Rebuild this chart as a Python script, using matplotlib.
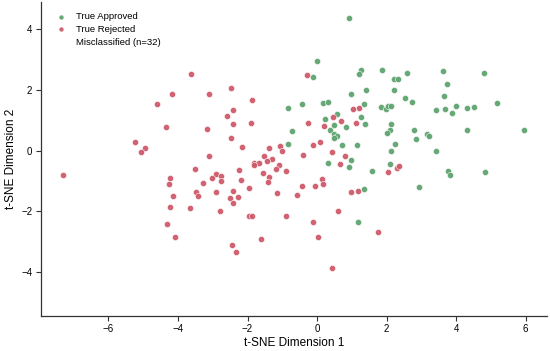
import numpy as np
import matplotlib
matplotlib.use('Agg')
import matplotlib.pyplot as plt

plt.rcParams['font.family'] = ['Liberation Sans', 'DejaVu Sans']

# t-SNE coordinates
approved_x = [0.93, -0.01, 1.25, 1.21, 1.87, 2.22, 2.34, 2.58, 3.63, 4.80, 3.73, -0.12,
              1.41, 2.20, 0.97, 2.54, 2.73, 3.65, 5.17, -0.83, -0.43, 0.18, 0.31, 1.36,
              1.85, 1.99, 2.03, 2.12, 3.42, 3.68, 3.89, 3.99, 4.30, 4.51, 0.58, 1.26,
              0.24, 0.83, 1.38, 0.37, 0.50, 0.50, 0.57, 0.49, -0.73, 2.14, 2.10, 2.02,
              2.78, 2.85, 3.16, 3.21, 4.30, 5.94, -0.84, 0.72, 1.15, 2.24, 2.13, 3.43,
              0.97, 0.31, 0.93, 2.10, 1.59, 3.77, 3.83, 4.84, 1.34, 2.92, 1.19]
approved_y = [4.37, 2.97, 2.65, 2.54, 2.67, 2.36, 2.35, 2.55, 2.63, 2.57, 2.21, 2.43,
              2.01, 2.00, 1.86, 1.74, 1.61, 1.79, 1.56, 1.42, 1.55, 1.56, 1.61, 1.55,
              1.44, 1.36, 1.46, 1.47, 1.34, 1.36, 1.23, 1.48, 1.40, 1.43, 1.22, 1.10,
              1.05, 0.79, 0.88, 0.69, 0.83, 0.54, 0.47, 0.43, 0.66, 0.88, 0.67, 0.57,
              0.69, 0.38, 0.56, 0.49, 0.69, 0.69, 0.21, 0.18, 0.19, 0.22, 0.00, -0.02,
              -0.30, -0.42, -0.55, -0.44, -0.69, -0.66, -0.81, -0.72, -1.26, -1.21, -2.36]

rejected_x = [-3.63, -4.16, -3.10, -2.49, -4.60, -1.86, -2.42, -2.59, -4.34, -3.16, -2.42,
              -1.90, -2.47, -5.25, -4.95, -5.06, -2.16, -3.10, -1.38, -1.08, -1.01, -1.52,
              -1.30, -1.44, -1.82, -1.67, -1.82, -1.10, -1.19, -7.31, -3.51, -2.25, -1.55,
              -0.90, -2.92, -2.77, -4.23, -3.03, -4.25, -3.27, -2.77, -2.20, -1.37, -1.42,
              -4.15, -3.49, -3.42, -2.92, -2.42, -2.50, -2.28, -2.43, -1.97, -1.14, -0.58,
              -4.24, -3.65, -2.78, -1.95, -1.88, -0.90, -4.33, -4.08, -1.61, -2.45, -2.33,
              -0.29, 1.02, 1.21, 0.47, 0.68, 0.20, 1.11, -0.27, -0.11, 0.07, -0.40, 0.42,
              0.79, 0.67, 2.03, 2.29, 2.36, 0.14, 0.17, -0.06, -0.44, 0.98, 1.19, 0.61,
              -0.11, 1.76, 0.04, 0.42]
rejected_y = [2.52, 1.88, 1.88, 2.07, 1.53, 1.67, 1.34, 1.15, 0.79, 0.71, 0.88, 0.91, 0.41,
              0.27, 0.08, -0.06, 0.13, -0.19, 0.10, 0.16, 0.00, -0.17, -0.28, -0.35, -0.40,
              -0.42, -0.48, -0.49, -0.61, -0.80, -0.61, -0.64, -0.73, -0.67, -0.76, -0.84,
              -0.90, -0.90, -1.09, -1.07, -1.00, -0.97, -0.86, -1.05, -1.51, -1.38, -1.49,
              -1.37, -1.34, -1.56, -1.52, -1.74, -1.22, -1.39, -1.46, -1.85, -1.90, -1.99,
              -2.17, -2.17, -2.17, -2.41, -2.85, -2.93, -3.11, -3.34,
              2.50, 1.37, 1.41, 1.10, 0.97, 0.82, 0.90, 0.90, 0.18, 0.27, -0.16, -0.06,
              -0.17, -0.43, -0.72, -0.58, -0.51, -0.95, -1.11, -1.18, -1.18, -1.36, -1.32,
              -1.98, -2.36, -2.68, -2.85, -3.86]

n_misclassified = 32

green = '#5ea36f'
red = '#cf5a6a'

fig, ax = plt.subplots(figsize=(5.5, 3.51), dpi=100)
fig.subplots_adjust(left=0.074, right=0.995, bottom=0.1006, top=0.995)

ax.scatter(approved_x, approved_y, s=20, c=green, edgecolors='white', linewidths=0.4,
           alpha=0.95, label='True Approved', zorder=2)
ax.scatter(rejected_x, rejected_y, s=20, c=red, edgecolors='white', linewidths=0.4,
           alpha=0.95, label='True Rejected', zorder=2)
# misclassified markers are not visible in the figure, only the legend entry
ax.scatter([], [], s=20, facecolors='none', edgecolors='none',
           label='Misclassified (n=%d)' % n_misclassified)

ax.set_xlim(-7.95, 6.62)
ax.set_ylim(-5.45, 4.91)
ax.set_xticks([-6, -4, -2, 0, 2, 4, 6])
ax.set_yticks([-4, -2, 0, 2, 4])

ax.set_xlabel('t-SNE Dimension 1', fontsize=8.5, labelpad=2)
ax.set_ylabel('t-SNE Dimension 2', fontsize=8.5, labelpad=3)
ax.tick_params(labelsize=7, length=3.5, width=0.8, color='#333333', pad=2.5)
for side in ['top', 'right']:
    ax.spines[side].set_visible(False)
for side in ['left', 'bottom']:
    ax.spines[side].set_color('#333333')
    ax.spines[side].set_linewidth(0.9)

ax.legend(loc='upper left', frameon=False, fontsize=6.8, handletextpad=0.6,
          labelspacing=0.4, borderaxespad=0.7, markerscale=0.8)

plt.savefig('out.png', dpi=100)
